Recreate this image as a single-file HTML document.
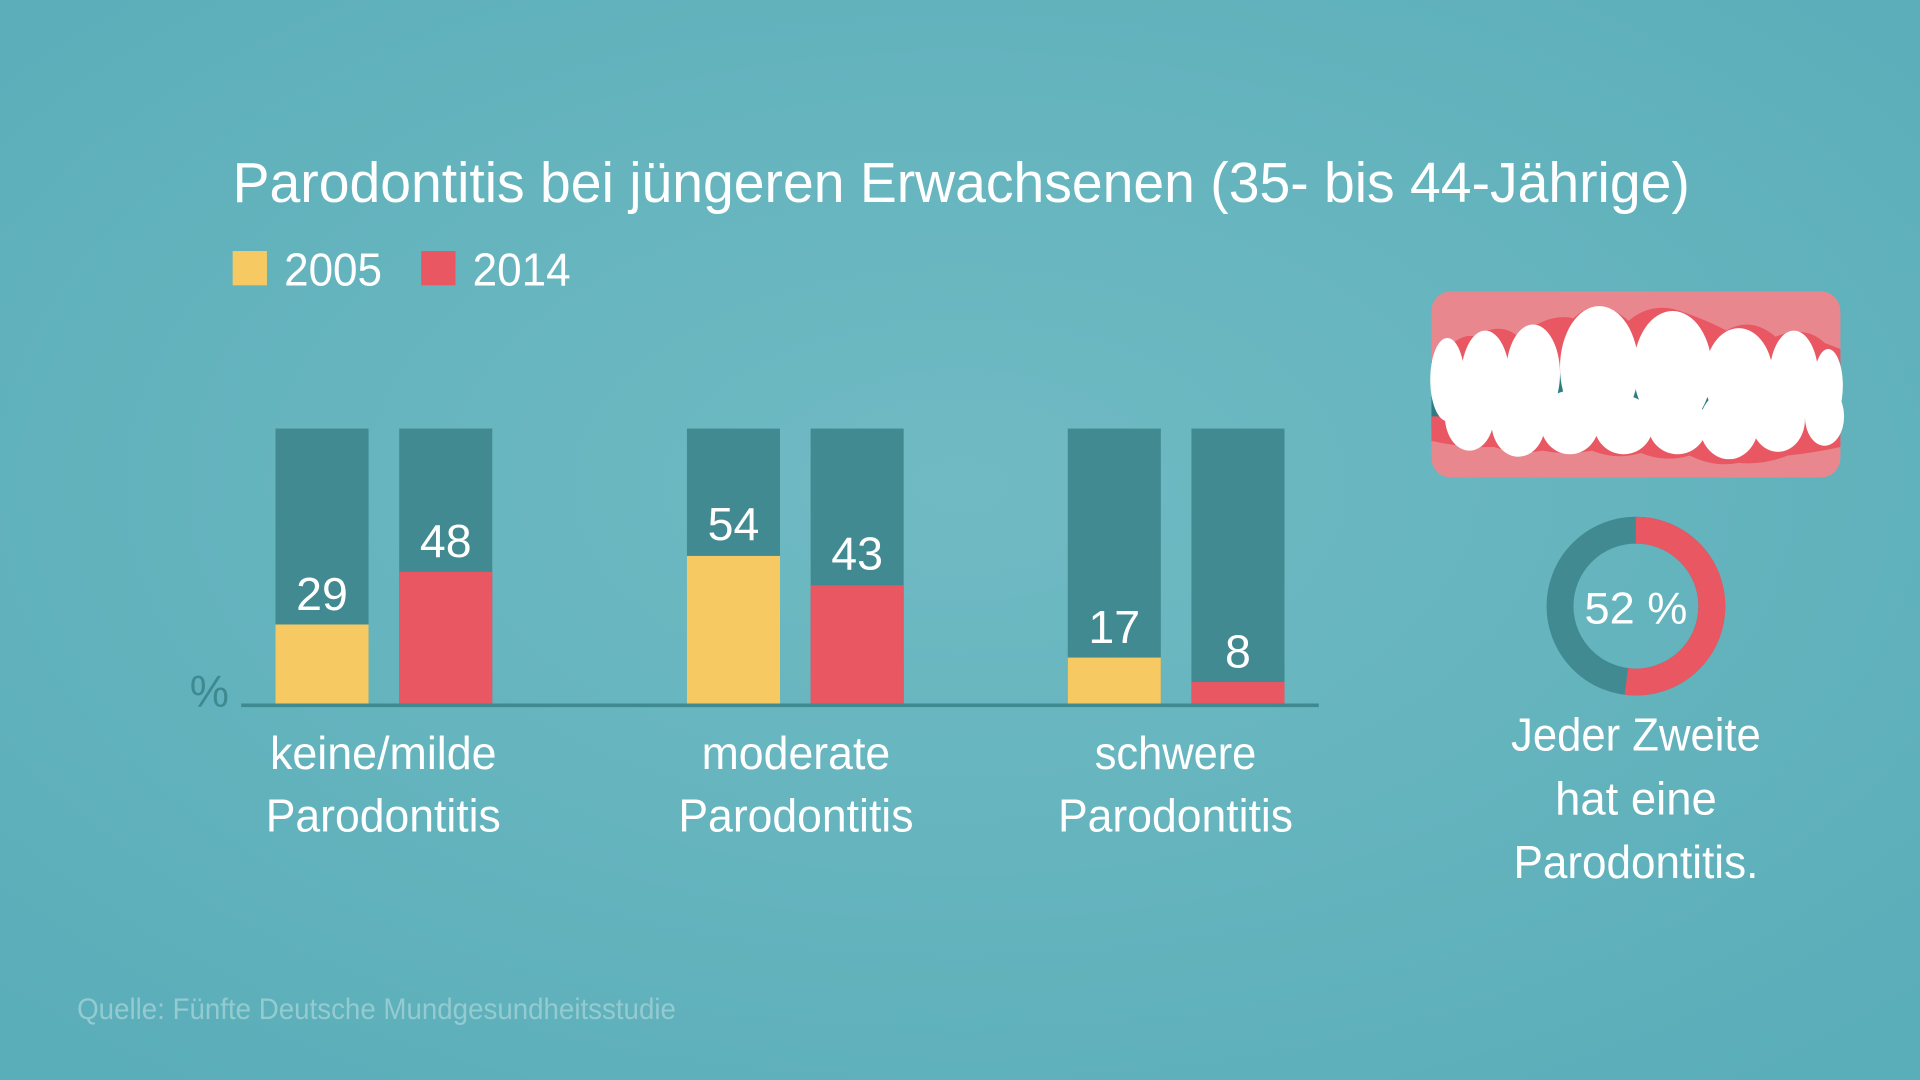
<!DOCTYPE html>
<html><head><meta charset="utf-8"><style>
html,body{margin:0;padding:0;width:1920px;height:1080px;overflow:hidden;background:#62b1bc}
svg{display:block}
text{font-family:"Liberation Sans Narrow","Liberation Sans",sans-serif;fill:#fff}
</style></head><body>
<svg width="1920" height="1080" viewBox="0 0 1568 882" xmlns="http://www.w3.org/2000/svg">
<defs>
<radialGradient id="bg" cx="50%" cy="45%" r="70%">
<stop offset="0" stop-color="#70bac3"/><stop offset="1" stop-color="#5aaeb9"/>
</radialGradient>
</defs>
<rect width="1568" height="882" fill="url(#bg)"/>
<text x="190" y="165" font-size="46" textLength="1190" lengthAdjust="spacingAndGlyphs">Parodontitis bei jüngeren Erwachsenen (35- bis 44-Jährige)</text>
<rect x="190" y="205" width="28" height="28" fill="#f6c962"/>
<text x="232" y="233" font-size="38" textLength="80" lengthAdjust="spacingAndGlyphs">2005</text>
<rect x="344" y="205" width="28" height="28" fill="#e85762"/>
<text x="386" y="233" font-size="38" textLength="80" lengthAdjust="spacingAndGlyphs">2014</text>

<g fill="#428a91">
<rect x="225" y="350" width="76" height="225"/><rect x="326" y="350" width="76" height="225"/>
<rect x="561" y="350" width="76" height="225"/><rect x="662" y="350" width="76" height="225"/>
<rect x="872" y="350" width="76" height="225"/><rect x="973" y="350" width="76" height="225"/>
</g>
<rect x="225" y="510" width="76" height="65" fill="#f6c962"/>
<rect x="326" y="467" width="76" height="108" fill="#e85762"/>
<rect x="561" y="454" width="76" height="121" fill="#f6c962"/>
<rect x="662" y="478" width="76" height="97" fill="#e85762"/>
<rect x="872" y="537" width="76" height="38" fill="#f6c962"/>
<rect x="973" y="557" width="76" height="18" fill="#e85762"/>
<line x1="197" y1="576" x2="1077" y2="576" stroke="#3f8a90" stroke-width="3"/>
<text x="155" y="577" font-size="36" style="fill:#3f8a90">%</text>
<g font-size="38" text-anchor="middle" lengthAdjust="spacingAndGlyphs">
<text x="263" y="498">29</text><text x="364" y="455">48</text>
<text x="599" y="441">54</text><text x="700" y="465">43</text>
<text x="910" y="525">17</text><text x="1011" y="545">8</text>
<text x="313" y="628" textLength="185" lengthAdjust="spacingAndGlyphs">keine/milde</text><text x="313" y="679" textLength="192" lengthAdjust="spacingAndGlyphs">Parodontitis</text>
<text x="650" y="628" textLength="154" lengthAdjust="spacingAndGlyphs">moderate</text><text x="650" y="679" textLength="192" lengthAdjust="spacingAndGlyphs">Parodontitis</text>
<text x="960" y="628" textLength="132" lengthAdjust="spacingAndGlyphs">schwere</text><text x="960" y="679" textLength="192" lengthAdjust="spacingAndGlyphs">Parodontitis</text>
<text x="1336" y="613" textLength="204" lengthAdjust="spacingAndGlyphs">Jeder Zweite</text><text x="1336" y="665" textLength="132" lengthAdjust="spacingAndGlyphs">hat eine</text><text x="1336" y="717" textLength="200" lengthAdjust="spacingAndGlyphs">Parodontitis.</text>
</g>

<!-- teeth -->
<rect x="1169" y="238" width="334" height="152" rx="16" fill="#e8878e"/>
<rect x="1169" y="295" width="334" height="55" fill="#2f7d83"/>
<path d="M1169 300 Q1190 270 1205 275 Q1225 262 1240 275 Q1265 255 1285 260 Q1305 240 1330 262 Q1350 245 1375 255 Q1395 262 1410 270 Q1430 258 1450 275 Q1475 265 1490 280 L1503 285 L1503 305 L1169 305 Z" fill="#e85762"/>
<path d="M1169 340 L1503 340 L1503 365 Q1480 370 1460 372 Q1440 380 1420 378 Q1400 382 1380 372 Q1360 378 1340 370 Q1320 376 1300 368 Q1280 372 1260 368 Q1240 372 1220 365 Q1195 366 1169 360 Z" fill="#e85762"/>
<g fill="#fff">
<ellipse cx="1200" cy="340" rx="20" ry="28"/>
<ellipse cx="1240" cy="345" rx="22" ry="28"/>
<ellipse cx="1282" cy="345" rx="24" ry="26"/>
<ellipse cx="1326" cy="347" rx="24" ry="24"/>
<ellipse cx="1370" cy="347" rx="24" ry="24"/>
<ellipse cx="1412" cy="347" rx="24" ry="28"/>
<ellipse cx="1452" cy="343" rx="22" ry="26"/>
<ellipse cx="1490" cy="340" rx="16" ry="24"/>
<ellipse cx="1182" cy="310" rx="14" ry="34"/>
<ellipse cx="1213" cy="310" rx="20" ry="40"/>
<ellipse cx="1252" cy="305" rx="22" ry="40"/>
<ellipse cx="1306" cy="300" rx="32" ry="50"/>
<ellipse cx="1366" cy="302" rx="32" ry="48"/>
<ellipse cx="1420" cy="308" rx="28" ry="40"/>
<ellipse cx="1465" cy="308" rx="20" ry="38"/>
<ellipse cx="1493" cy="315" rx="12" ry="30"/>
</g>

<!-- donut -->
<circle cx="1336" cy="495" r="62" fill="none" stroke="#428a91" stroke-width="22"/>
<path d="M1336 433 A62 62 0 1 1 1328.2 556.5" fill="none" stroke="#e85762" stroke-width="22"/>
<text x="1336" y="509" font-size="36" text-anchor="middle" textLength="84" lengthAdjust="spacingAndGlyphs">52 %</text>

<text x="63" y="832" font-size="24" style="fill:#93cbd1" textLength="489" lengthAdjust="spacingAndGlyphs">Quelle: Fünfte Deutsche Mundgesundheitsstudie</text>
</svg>
</body></html>
